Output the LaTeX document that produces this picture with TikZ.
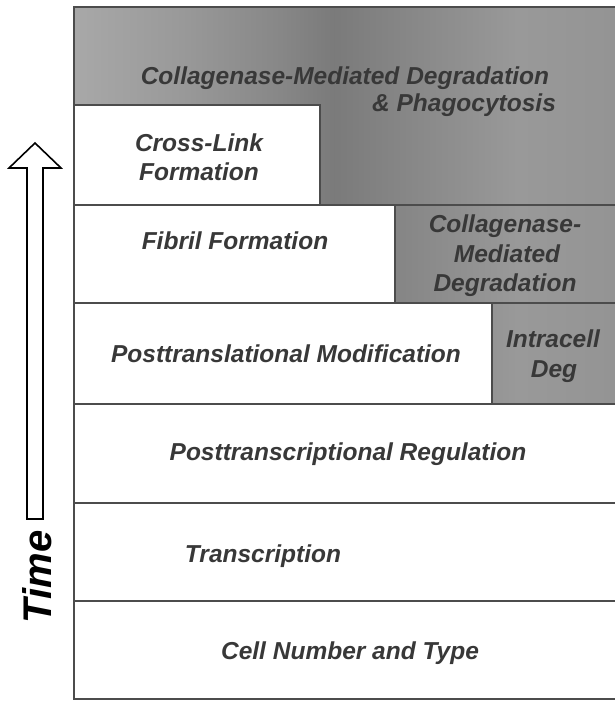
\documentclass[tikz,border=0pt]{standalone}
\usepackage{fontspec}
\setmainfont{Liberation Sans}
\definecolor{gA}{gray}{0.66}
\definecolor{gB}{gray}{0.60}
\definecolor{gC}{gray}{0.53}
\definecolor{gD}{gray}{0.48}
\definecolor{gE}{gray}{0.58}
\definecolor{labelgray}{gray}{0.22}
\definecolor{framegray}{gray}{0.30}
\pgfdeclarehorizontalshading{grayband}{100bp}{color(0bp)=(gA); color(25bp)=(gA); color(35bp)=(gB); color(44bp)=(gC); color(49bp)=(gD); color(56bp)=(gC); color(66bp)=(gB); color(75bp)=(gE); color(100bp)=(gE)}
\begin{document}
\begin{tikzpicture}[x=1pt,y=-1pt,
  lbl/.style={font=\fontsize{24.5}{29.5}\selectfont\bfseries\itshape, text=labelgray, inner sep=0pt, anchor=base},
  frame/.style={draw=framegray, line width=2pt},
  arrowshape/.style={draw=black, fill=white, line width=1.6pt, line join=miter}]
\useasboundingbox (0,0) rectangle (615,702);
% gray degradation area
\shade[shading=grayband] (74,7) -- (615,7) -- (615,404) -- (492,404) -- (492,303) -- (395,303) -- (395,205) -- (320,205) -- (320,105) -- (74,105) -- cycle;
% frame and dividers
\draw[frame] (615,7) -- (74,7) -- (74,699) -- (615,699);
\draw[frame] (74,105) -- (320,105) -- (320,205);
\draw[frame] (74,205) -- (615,205);
\draw[frame] (395,205) -- (395,303);
\draw[frame] (74,303) -- (615,303);
\draw[frame] (492,303) -- (492,404);
\draw[frame] (74,404) -- (615,404);
\draw[frame] (74,503) -- (615,503);
\draw[frame] (74,601) -- (615,601);
% labels
\node[lbl] (deg1) at (345,84) {Collagenase-Mediated Degradation};
\node[lbl] (deg2) at (464,111) {\& Phagocytosis};
\node[lbl] (cl1) at (199,151) {Cross-Link};
\node[lbl] (cl2) at (199,180) {Formation};
\node[lbl] (fib) at (235,249) {Fibril Formation};
\node[lbl] (cm1) at (505,232) {Collagenase-};
\node[lbl] (cm2) at (507,262) {Mediated};
\node[lbl] (cm3) at (505,291) {Degradation};
\node[lbl] (ptm) at (286,362) {Posttranslational Modification};
\node[lbl] (ic1) at (553,347) {Intracell};
\node[lbl] (ic2) at (554,377) {Deg};
\node[lbl] (ptr) at (348,460) {Posttranscriptional Regulation};
\node[lbl] (trn) at (263,562) {Transcription};
\node[lbl] (cnt) at (350,659) {Cell Number and Type};
% time arrow
\draw[arrowshape] (27,519) -- (27,168) -- (9,168) -- (35,143) -- (61,168) -- (43,168) -- (43,519) -- cycle;
\node[font=\fontsize{40}{44}\selectfont\bfseries\itshape, text=black, rotate=90, inner sep=0pt] (time) at (37,577) {Time};
\end{tikzpicture}
\end{document}
